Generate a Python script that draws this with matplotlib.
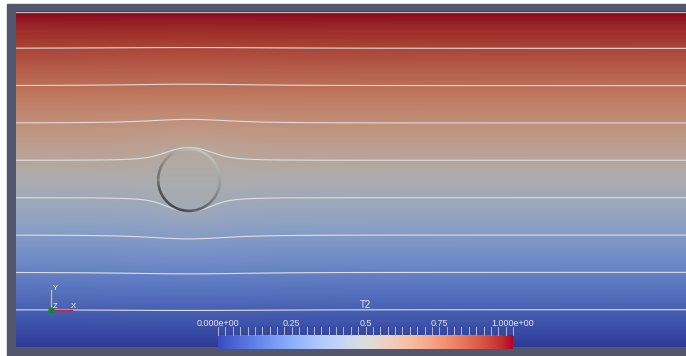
import matplotlib.pyplot as plt
import numpy as np
from matplotlib.colors import ListedColormap
from matplotlib.collections import LineCollection

# scene data (domain units: height 1, width ~2)
domain_w = 1.994
domain_h = 1.0
cyl_center = (0.515, 0.497)
cyl_radius = 0.092
cyl_strength = 0.45          # how strongly the inclusion bends the isotherms
cyl_decay = 1.5
contour_levels = [0.1111, 0.2222, 0.3333, 0.4444, 0.5556, 0.6667, 0.7778, 0.8889, 1.0]
bar_ticks = [0.0, 0.25, 0.5, 0.75, 1.0]
bar_labels = ['0.000e+00', '0.25', '0.5', '0.75', '1.000e+00']
bar_title = 'T2'
shade = 0.78                 # lighting dims the surface relative to the legend

W, H = 686, 356
fig = plt.figure(figsize=(W / 100, H / 100), dpi=100)
fig.patch.set_facecolor('white')

# background frame
bg = fig.add_axes([0, 0, 1, 1])
bg.set_xlim(0, W)
bg.set_ylim(H, 0)
bg.axis('off')
bg.add_patch(plt.Rectangle((7, 4), W - 7, H - 4, color='#52576e', zorder=0))

# temperature field
x0, x1, y0, y1 = 16, 686, 11, 347
dom = fig.add_axes([x0 / W, (H - y1) / H, (x1 - x0) / W, (y1 - y0) / H])
dom.set_xlim(0, domain_w)
dom.set_ylim(0, domain_h)
dom.axis('off')

xs = np.linspace(0, domain_w, 900)
ys = np.linspace(0, domain_h, 460)
X, Y = np.meshgrid(xs, ys)
cx, cy = cyl_center
r2 = (X - cx) ** 2 + (Y - cy) ** 2
a2 = cyl_radius ** 2
T = np.where(r2 > a2,
             cy + (Y - cy) * (1 - cyl_strength * (a2 / np.maximum(r2, 1e-9)) ** cyl_decay),
             cy + (Y - cy) * (1 - cyl_strength))
T = np.clip(T, 0, 1)

base = plt.get_cmap('coolwarm')
cols = base(np.linspace(0, 1, 256))
cols[:, :3] *= shade
surf_cmap = ListedColormap(cols)

dom.imshow(T, extent=(0, domain_w, 0, domain_h), origin='lower',
           cmap=surf_cmap, vmin=0, vmax=1, aspect='auto', interpolation='bilinear')
dom.contour(X, Y, T, levels=contour_levels[:-1], colors='#dedede', linewidths=0.8)
dom.axhline(contour_levels[-1] - 0.002, color='#c8b0b4', lw=1.0)

# cylinder outline with shaded look
th = np.linspace(0, 2 * np.pi, 200)
px = cx + cyl_radius * np.cos(th)
py = cy + cyl_radius * np.sin(th)
pts = np.array([px, py]).T.reshape(-1, 1, 2)
segs = np.concatenate([pts[:-1], pts[1:]], axis=1)
light = 0.5 + 0.5 * np.cos(th[:-1] - np.pi / 3)
gray = 0.22 + 0.55 * light
seg_cols = np.stack([gray, gray, gray * 0.98, np.ones_like(gray)], axis=1)
dom.add_collection(LineCollection(segs, colors=seg_cols, linewidths=1.8))

# overlay for legend and triad
ov = fig.add_axes([0, 0, 1, 1])
ov.axis('off')
ov.patch.set_alpha(0)

bx0, bx1, by0, by1 = 218, 513, 335, 349
grad = np.linspace(0, 1, 256).reshape(1, -1)
ov.imshow(grad, extent=(bx0, bx1, by1, by0), cmap='coolwarm', aspect='auto', zorder=3)
ov.set_xlim(0, W)
ov.set_ylim(H, 0)
for v in np.linspace(0, 1, 41):
    xv = bx0 + v * (bx1 - bx0)
    ov.plot([xv, xv], [327, by0], color='#c8c8d2', lw=0.6, zorder=4)
font = ['Liberation Sans', 'DejaVu Sans']
for v, lab in zip(bar_ticks, bar_labels):
    xv = bx0 + v * (bx1 - bx0)
    ov.text(xv, 323, lab, color='#e6e6e6', fontsize=6.5, family=font,
            ha='center', va='center', zorder=4)
ov.text(365, 305, bar_title, color='#e6e6e6', fontsize=7, family=font,
        ha='center', va='center', zorder=4)

# orientation triad
ox, oy = 51, 310
ov.plot([ox, ox], [oy, 290], color='#d8d800', lw=0.9, zorder=4)
ov.plot([ox, 72], [oy, oy], color='#d02020', lw=0.9, zorder=4)
ov.plot([ox], [oy], 'o', color='#108a20', ms=3.5, zorder=5)
ov.text(53, 289, 'Y', color='white', fontsize=5.5, family=font, va='center', zorder=5)
ov.text(71, 307, 'X', color='white', fontsize=5.5, family=font, va='center', zorder=5)
ov.text(53, 306, 'Z', color='white', fontsize=5.5, family=font, va='center', zorder=5)

fig.savefig('out.png', dpi=100, facecolor=fig.get_facecolor())
